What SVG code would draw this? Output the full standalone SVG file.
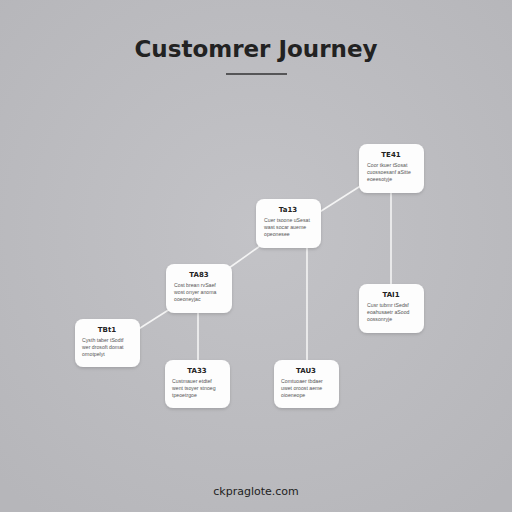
<svg xmlns="http://www.w3.org/2000/svg" width="512" height="512" viewBox="0 0 512 512">
<defs>
<radialGradient id="bg" cx="50%" cy="45%" r="70%">
<stop offset="0" stop-color="#c3c3c7"/>
<stop offset="1" stop-color="#b6b6ba"/>
</radialGradient>
<filter id="sh" x="-20%" y="-20%" width="140%" height="150%">
<feDropShadow dx="0" dy="1.5" stdDeviation="1.5" flood-color="#000" flood-opacity="0.15"/>
</filter>
</defs>
<style>
.card{fill:#fdfdfd;filter:url(#sh)}
.t{font-family:"DejaVu Sans","Liberation Sans",sans-serif;font-weight:bold;font-size:7px;fill:#222;text-anchor:middle}
.b{font-family:"Liberation Sans",sans-serif;font-size:5.2px;fill:#555;}
.c{stroke:#f4f4f4;stroke-width:1.6;fill:none}
</style>
<rect width="512" height="512" fill="url(#bg)"/>
<text x="256" y="57" text-anchor="middle" font-family="'DejaVu Sans','Liberation Sans',sans-serif" font-weight="bold" font-size="23" fill="#222">Customrer Journey</text>
<line x1="226" y1="74" x2="287" y2="74" stroke="#333" stroke-width="1.3"/>
<g id="connectors">
<line class="c" x1="137" y1="330" x2="170" y2="309"/>
<line class="c" x1="229" y1="268" x2="260" y2="246"/>
<line class="c" x1="318" y1="213" x2="362" y2="185"/>
<line class="c" x1="198" y1="313" x2="198" y2="360"/>
<line class="c" x1="307" y1="248" x2="307" y2="360"/>
<line class="c" x1="391" y1="193" x2="391" y2="284"/>
</g>
<g id="n1"><rect class="card" x="75" y="319" width="65" height="48" rx="8"/>
<text class="t" x="107" y="332">TBt1</text>
<text class="b" x="82" y="342">Cysth taber tSodtf</text>
<text class="b" x="82" y="349">wer drosoft domat</text>
<text class="b" x="82" y="356">ornotpelyt</text></g>
<g id="n2"><rect class="card" x="166" y="264" width="66" height="49" rx="8"/>
<text class="t" x="199" y="277">TA83</text>
<text class="b" x="174" y="287">Cost brean rvSaef</text>
<text class="b" x="174" y="294">wost onyer anoma</text>
<text class="b" x="174" y="301">ooeoneyjac</text></g>
<g id="n3"><rect class="card" x="256" y="199" width="65" height="49" rx="8"/>
<text class="t" x="288" y="212">Ta13</text>
<text class="b" x="264" y="222">Cuer tsoone uSesat</text>
<text class="b" x="264" y="229">wast socar aueme</text>
<text class="b" x="264" y="236">opeonesee</text></g>
<g id="n4"><rect class="card" x="359" y="144" width="65" height="49" rx="8"/>
<text class="t" x="391" y="157">TE41</text>
<text class="b" x="367" y="167">Coor tkuer tSosat</text>
<text class="b" x="367" y="174">cuossoesanf aSitte</text>
<text class="b" x="367" y="181">eoeesotyje</text></g>
<g id="n5"><rect class="card" x="359" y="284" width="65" height="49" rx="8"/>
<text class="t" x="391" y="297">TAI1</text>
<text class="b" x="367" y="307">Cusr tubmr tSedsf</text>
<text class="b" x="367" y="314">eoahusaetr aSood</text>
<text class="b" x="367" y="321">oossonryje</text></g>
<g id="n6"><rect class="card" x="165" y="360" width="65" height="48" rx="8"/>
<text class="t" x="197" y="373">TA33</text>
<text class="b" x="172" y="383">Custmauer etdtef</text>
<text class="b" x="172" y="390">went tsoyer stnoeg</text>
<text class="b" x="172" y="397">tpeoetrgoe</text></g>
<g id="n7"><rect class="card" x="274" y="360" width="65" height="48" rx="8"/>
<text class="t" x="306" y="373">TAU3</text>
<text class="b" x="281" y="383">Comtuoaer tbdaer</text>
<text class="b" x="281" y="390">uwet oroost aeme</text>
<text class="b" x="281" y="397">oioeneope</text></g>
<text x="256" y="495" text-anchor="middle" font-family="'DejaVu Sans','Liberation Sans',sans-serif" font-size="11" fill="#222">ckpraglote.com</text>
</svg>
